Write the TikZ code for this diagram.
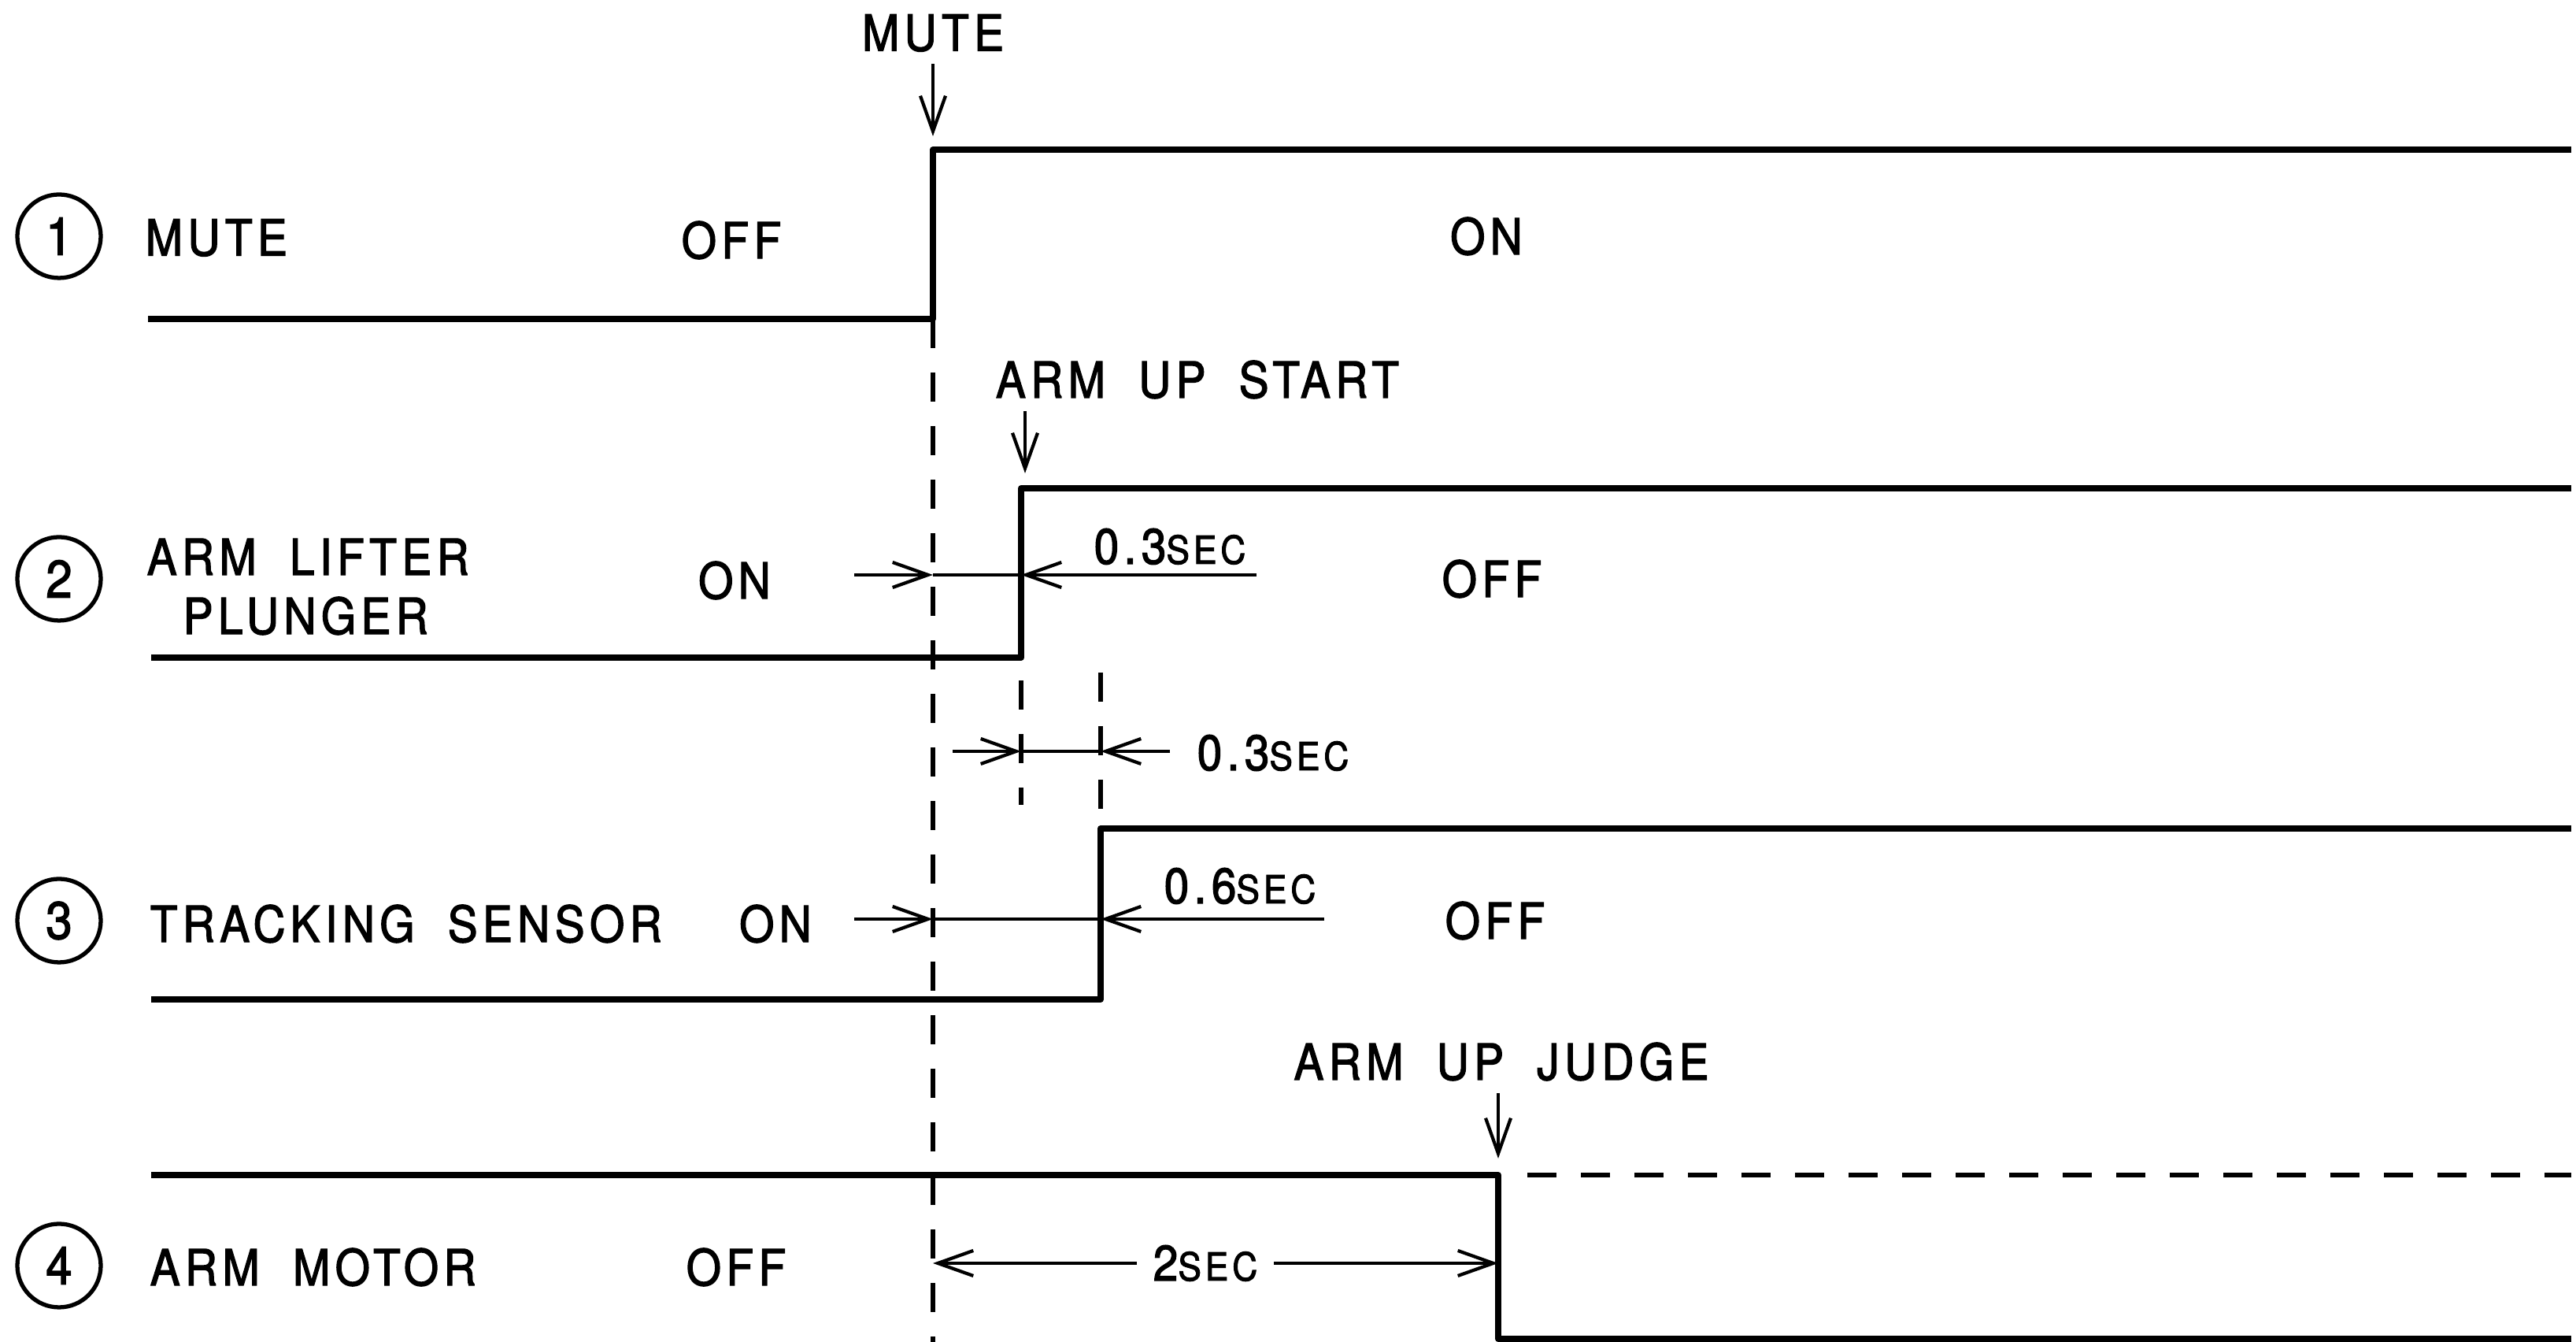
\documentclass[tikz,border=0pt]{standalone}
\usepackage{fontspec}
\setmainfont{TeX Gyre Heros}[LetterSpace=10,WordSpace=1.9,FakeStretch=0.9,FakeBold=2]
\usetikzlibrary{arrows.meta,positioning}

\newcommand{\secs}{{\fontsize{14}{16}\selectfont SEC}}

\begin{document}
\begin{tikzpicture}[
  font=\fontsize{18}{21}\selectfont,
  sigline/.style={line width=2.3pt, line join=round},
  guideline/.style={line width=1.5pt, dash pattern=on 0.37cm off 0.31cm},
  dimline/.style={line width=1.2pt},
  dimarrow/.style={-{Straight Barb[length=4.5mm,width=3.2mm]}, line width=1.2pt},
  numcircle/.style={draw, circle, line width=1.5pt, minimum size=1.06cm, inner sep=0pt, font=\fontsize{19}{22}\selectfont},
  siglabel/.style={anchor=west, inner sep=0pt},
  statelabel/.style={inner sep=0pt},
  dimlabel/.style={font=\fontsize{18}{21}\selectfont, inner sep=0pt}
]
  \useasboundingbox (0,0) rectangle (32.72,17.04);

  % Signal numbers and names
  \node[numcircle] (n1) at (0.75,14.04) {1};
  \node[numcircle] (n2) at (0.75,9.69) {2};
  \node[numcircle] (n3) at (0.75,5.35) {3};
  \node[numcircle] (n4) at (0.75,0.97) {4};
  \node[siglabel] (l1) at (1.84,14.02) {MUTE};
  \node[siglabel] (l2a) at (1.86,9.97) {ARM LIFTER};
  \node[siglabel] (l2b) at (2.32,9.22) {PLUNGER};
  \node[siglabel] (l3) at (1.90,5.31) {TRACKING SENSOR};
  \node[siglabel] (l4) at (1.90,0.95) {ARM MOTOR};

  % States
  \node[statelabel] (s1a) at (9.29,13.99) {OFF};
  \node[statelabel] (s1b) at (18.88,14.04) {ON};
  \node[statelabel] (s2a) at (9.33,9.67) {ON};
  \node[statelabel] (s2b) at (18.95,9.69) {OFF};
  \node[statelabel] (s3a) at (9.85,5.31) {ON};
  \node[statelabel] (s3b) at (18.99,5.35) {OFF};
  \node[statelabel] (s4a) at (9.35,0.95) {OFF};

  % Waveforms
  \draw[sigline] (1.88,12.99) -- (11.85,12.99) coordinate (m1) -- (11.85,15.14) coordinate (m2) -- (32.66,15.14);
  \draw[sigline] (1.92,8.69) -- (12.97,8.69) coordinate (p1) -- (12.97,10.84) coordinate (p2) -- (32.66,10.84);
  \draw[sigline] (1.92,4.35) -- (13.98,4.35) coordinate (t1) -- (13.98,6.52) coordinate (t2) -- (32.66,6.52);
  \draw[sigline] (1.92,2.12) -- (19.03,2.12) coordinate (a1) -- (19.03,0.04) coordinate (a2) -- (32.66,0.04);

  % Dashed guides
  \coordinate (g0) at (11.85,0);
  \draw[guideline] (m1) -- (g0);
  \coordinate (g1a) at (12.97,8.40);
  \coordinate (g1b) at (12.97,6.82);
  \draw[guideline] (g1a) -- (g1b);
  \coordinate (g2a) at (13.98,8.50);
  \coordinate (g2b) at (13.98,6.67);
  \draw[guideline] (g2a) -- (g2b);
  \coordinate (g3a) at (19.40,2.12);
  \coordinate (g3b) at (32.66,2.12);
  \draw[guideline] (g3a) -- (g3b);

  % Events
  \node[statelabel] (evmute) at (11.85,16.62) {MUTE};
  \coordinate (evmutetip) at (11.85,15.31);
  \draw[dimarrow, shorten <=0.15cm] (evmute) -- (evmutetip);
  \node[statelabel] (evstart) at (15.21,12.22) {ARM UP START};
  \coordinate (evstarta) at (13.02,11.82);
  \coordinate (evstartb) at (13.02,11.03);
  \draw[dimarrow] (evstarta) -- (evstartb);
  \node[statelabel] (evjudge) at (19.07,3.56) {ARM UP JUDGE};
  \coordinate (evjudgea) at (19.03,3.16);
  \coordinate (evjudgeb) at (19.03,2.33);
  \draw[dimarrow] (evjudgea) -- (evjudgeb);

  % 0.3 sec, arm lifter
  \coordinate (d2a) at (10.85,9.74);
  \coordinate (d2b) at (11.85,9.74);
  \coordinate (d2c) at (12.97,9.74);
  \coordinate (d2d) at (15.96,9.74);
  \draw[dimarrow] (d2a) -- (d2b);
  \draw[dimline] (d2b) -- (d2c);
  \draw[dimarrow] (d2d) -- (d2c);
  \node[dimlabel] (w2) at (14.86,10.10) {0.3\secs};

  % 0.3 sec, between lifter and sensor
  \coordinate (d5a) at (12.10,7.50);
  \coordinate (d5b) at (12.97,7.50);
  \coordinate (d5c) at (13.98,7.50);
  \coordinate (d5d) at (14.86,7.50);
  \draw[dimarrow] (d5a) -- (d5b);
  \draw[dimline] (d5b) -- (d5c);
  \draw[dimarrow] (d5d) -- (d5c);
  \node[dimlabel] (w5) at (16.17,7.48) {0.3\secs};

  % 0.6 sec, tracking sensor
  \coordinate (d3a) at (10.85,5.37);
  \coordinate (d3b) at (11.85,5.37);
  \coordinate (d3c) at (13.98,5.37);
  \coordinate (d3d) at (16.82,5.37);
  \draw[dimarrow] (d3a) -- (d3b);
  \draw[dimline] (d3b) -- (d3c);
  \draw[dimarrow] (d3d) -- (d3c);
  \node[dimlabel] (w3) at (15.75,5.79) {0.6\secs};

  % 2 sec, arm motor
  \node[dimlabel, inner sep=0.2cm] (w4) at (15.31,1.0) {2\secs};
  \coordinate (d4a) at (11.85,1.0);
  \coordinate (d4b) at (19.03,1.0);
  \draw[dimarrow] (w4) -- (d4a);
  \draw[dimarrow] (w4) -- (d4b);
\end{tikzpicture}
\end{document}
